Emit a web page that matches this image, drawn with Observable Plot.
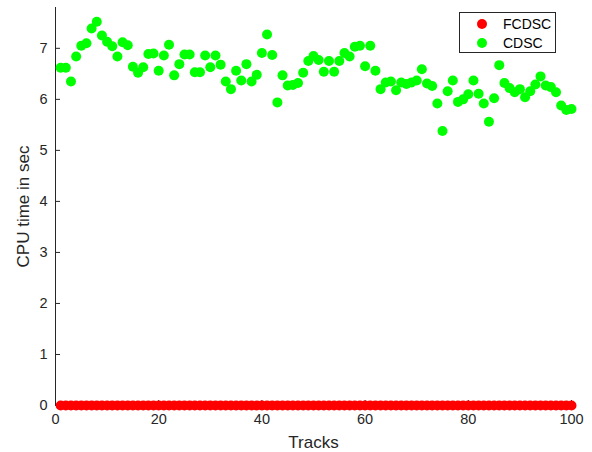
<!DOCTYPE html>
<html>
<head>
<meta charset="utf-8">
<script src="https://cdn.jsdelivr.net/npm/d3@7"></script>
<script src="https://cdn.jsdelivr.net/npm/@observablehq/plot@0.6"></script>
<style>
  html, body { margin: 0; padding: 0; background: #fff; }
  #wrap { position: relative; width: 592px; height: 452px; font-family: "Liberation Sans", Arial, sans-serif; }
  #legend { position: absolute; left: 459px; top: 12px; width: 97px; height: 41px; border: 1px solid #262626; background: #fff; font-size: 14px; color: #000; box-sizing: border-box; }
  .item { position: absolute; left: 0; height: 18px; line-height: 18px; }
  .dot { position: absolute; left: 17px; top: 4px; width: 10px; height: 10px; border-radius: 50%; }
  .lbl { position: absolute; left: 43px; top: 0; white-space: nowrap; }
</style>
</head>
<body>
<div id="wrap"></div>
<script>
const tracks = d3.range(1, 101);
const fcdsc = new Array(100).fill(0);
const cdsc = [
  6.62, 6.62, 6.35, 6.84, 7.05, 7.10, 7.39, 7.52, 7.25, 7.13,
  7.04, 6.84, 7.12, 7.06, 6.64, 6.52, 6.63, 6.89, 6.90, 6.56,
  6.86, 7.07, 6.47, 6.69, 6.88, 6.88, 6.53, 6.53, 6.86, 6.63,
  6.86, 6.68, 6.35, 6.20, 6.56, 6.37, 6.69, 6.35, 6.48, 6.91,
  7.27, 6.87, 5.94, 6.47, 6.27, 6.28, 6.32, 6.52, 6.75, 6.85,
  6.77, 6.54, 6.75, 6.54, 6.75, 6.91, 6.84, 7.03, 7.05, 6.65,
  7.05, 6.56, 6.20, 6.33, 6.35, 6.18, 6.33, 6.30, 6.33, 6.37,
  6.59, 6.31, 6.26, 5.92, 5.38, 6.16, 6.37, 5.95, 6.00, 6.10,
  6.37, 6.11, 5.92, 5.56, 6.02, 6.67, 6.32, 6.22, 6.14, 6.20,
  6.04, 6.16, 6.29, 6.45, 6.27, 6.24, 6.14, 5.88, 5.79, 5.81
];
const seriesNames = ["FCDSC", "CDSC"];
const seriesColors = ["#ff0000", "#00ff00"];
const xTicks = [0, 20, 40, 60, 80, 100];
const yTicks = [0, 1, 2, 3, 4, 5, 6, 7];

const rows = [];
tracks.forEach((t, i) => {
  rows.push({track: t, value: fcdsc[i], series: seriesNames[0]});
});
tracks.forEach((t, i) => {
  rows.push({track: t, value: cdsc[i], series: seriesNames[1]});
});

const chart = Plot.plot({
  width: 592,
  height: 452,
  marginLeft: 55,
  marginRight: 21,
  marginTop: 7,
  marginBottom: 47,
  style: {fontFamily: "'Liberation Sans', Arial, sans-serif", fontSize: "14.5px", color: "#262626", background: "#fff", overflow: "visible"},
  x: {domain: [0, 100], ticks: xTicks},
  y: {domain: [0, 7.8], ticks: yTicks},
  color: {domain: seriesNames, range: seriesColors},
  marks: [
    Plot.frame({anchor: "left", stroke: "#262626"}),
    Plot.frame({anchor: "bottom", stroke: "#262626"}),
    Plot.axisX({ticks: xTicks, tickSize: -5, tickPadding: 13, label: "Tracks", labelAnchor: "center", labelArrow: "none", labelOffset: 42, fontSize: 14.5}),
    Plot.axisY({ticks: yTicks, tickSize: -5, tickPadding: 13, label: "CPU time in sec", labelAnchor: "center", labelArrow: "none", labelOffset: 39, fontSize: 14.5}),
    Plot.dot(rows, {x: "track", y: "value", fill: "series", r: 5, stroke: null})
  ]
});
const wrap = document.getElementById("wrap");
wrap.appendChild(chart);
d3.select(chart).selectAll("g[aria-label='x-axis label'] text, g[aria-label='y-axis label'] text").style("font-size", "17px").attr("fill", "#262626");

const legend = document.createElement("div");
legend.id = "legend";
seriesNames.forEach((name, i) => {
  const item = document.createElement("div");
  item.className = "item";
  item.style.top = (2 + i * 19) + "px";
  item.innerHTML = `<span class="dot" style="background:${seriesColors[i]}"></span><span class="lbl">${name}</span>`;
  item.style.width = "100%";
  legend.appendChild(item);
});
wrap.appendChild(legend);
</script>
</body>
</html>
